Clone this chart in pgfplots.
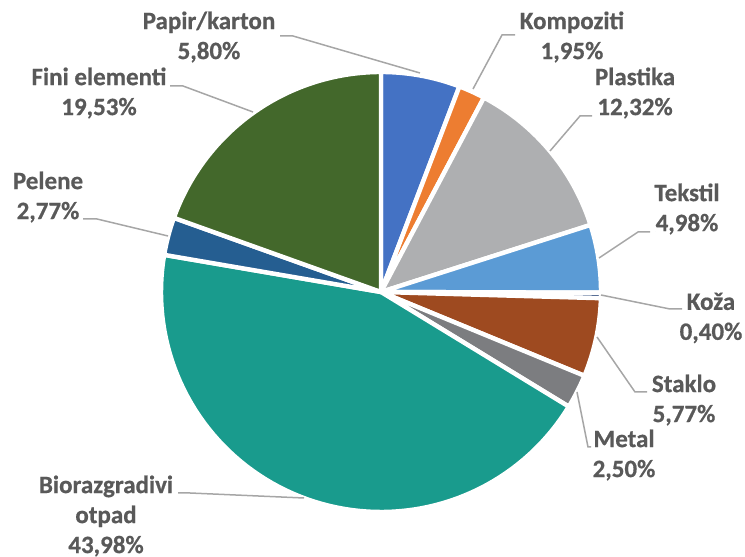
\documentclass[border=0pt]{standalone}
\usepackage{pgfplots}
\pgfplotsset{compat=1.18}
\usepackage{fontspec}
\setmainfont{Carlito}[BoldFont={Carlito Bold}, BoldFeatures={FakeBold=0.6}]
\definecolor{cPap}{HTML}{4472C4}
\definecolor{cKom}{HTML}{ED7D31}
\definecolor{cPla}{HTML}{AEAFB1}
\definecolor{cTek}{HTML}{5B9BD5}
\definecolor{cKoz}{HTML}{264478}
\definecolor{cSta}{HTML}{9E4A20}
\definecolor{cMet}{HTML}{7C7D80}
\definecolor{cBio}{HTML}{199B8D}
\definecolor{cPel}{HTML}{255E91}
\definecolor{cFin}{HTML}{43682B}
\definecolor{lbl}{HTML}{595959}
\definecolor{lead}{HTML}{A6A6A6}
\begin{document}
\begin{tikzpicture}
\begin{axis}[
  x=0.5pt, y=0.5pt,
  xmin=-381, xmax=364, ymin=-265, ymax=292,
  hide axis, clip=false, enlargelimits=false,
]
\gdef\cum{0}
\foreach \v/\c in {5.80/cPap, 1.95/cKom, 12.32/cPla, 4.98/cTek, 0.40/cKoz, 5.77/cSta, 2.50/cMet, 43.98/cBio, 2.77/cPel, 19.53/cFin} {
  \pgfmathsetmacro\a{90-3.6*\cum}
  \pgfmathsetmacro\b{90-3.6*(\cum+\v)}
  \edef\temp{\noexpand\addplot[fill=\c, draw=white, line width=2.2pt, line join=round, domain=\b:\a, samples=80, variable=\noexpand\t] ({220*cos(\noexpand\t)},{220*sin(\noexpand\t)}) -- (axis cs:0,0) -- cycle;}
  \temp
  \pgfmathsetmacro\newcum{\cum+\v}
  \xdef\cum{\newcum}
}
% leader lines
\addplot[draw=lead, line width=0.75pt, no markers] coordinates {(-101,256) (-88,256) (39,219)};
\addplot[draw=lead, line width=0.75pt, no markers] coordinates {(134,257) (121,257) (92,203)};
\addplot[draw=lead, line width=0.75pt, no markers] coordinates {(211,176) (199,176) (169,141)};
\addplot[draw=lead, line width=0.75pt, no markers] coordinates {(269,60) (257,60) (218,34)};
\addplot[draw=lead, line width=0.75pt, no markers] coordinates {(220,-3) (289,-17) (301,-17)};
\addplot[draw=lead, line width=0.75pt, no markers] coordinates {(216,-45) (254,-100) (266,-100)};
\addplot[draw=lead, line width=0.75pt, no markers] coordinates {(196,-100) (207,-155) (210,-155)};
\addplot[draw=lead, line width=0.75pt, no markers] coordinates {(-203,-201) (-191,-201) (-77,-206)};
\addplot[draw=lead, line width=0.75pt, no markers] coordinates {(-298,73) (-284,73) (-213,56)};
\addplot[draw=lead, line width=0.75pt, no markers] coordinates {(-211,206) (-198,206) (-128,180)};
% labels
\tikzset{lab/.style={align=center, text=lbl, font=\fontsize{12.5}{15}\selectfont\bfseries, inner sep=0pt}}
\node[lab] at (axis cs:-172,255) {Papir/karton\\5,80\%};
\node[lab] at (axis cs:191,255) {Kompoziti\\1,95\%};
\node[lab] at (axis cs:254,199) {Plastika\\12,32\%};
\node[lab] at (axis cs:306,83) {Tekstil\\4,98\%};
\node[lab] at (axis cs:330,-26) {Koža\\0,40\%};
\node[lab] at (axis cs:303,-108) {Staklo\\5,77\%};
\node[lab] at (axis cs:243,-163) {Metal\\2,50\%};
\node[lab] at (axis cs:-275,-224) {Biorazgradivi\\otpad\\43,98\%};
\node[lab] at (axis cs:-333,95) {Pelene\\2,77\%};
\node[lab] at (axis cs:-282,199) {Fini elementi\\19,53\%};
\end{axis}
\pgfresetboundingbox
\path[use as bounding box] (current axis.south west) rectangle (current axis.north east);
\end{tikzpicture}
\end{document}
